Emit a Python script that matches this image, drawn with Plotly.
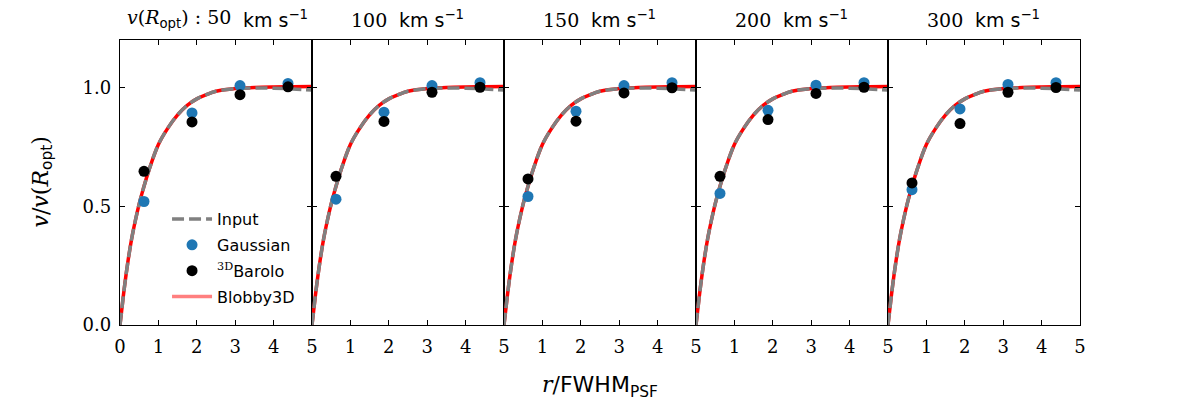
import plotly.graph_objects as go

# ---- data ----
title_prefix = ['<i>v</i>(<i>R</i><span style="font-family:\'DejaVu Sans\'"><sub>opt</sub></span>) : 50', '100', '150', '200', '300']
title_unit = 'km s<sup>−1</sup>'

r_curve = [0, 0.05, 0.1, 0.2, 0.3, 0.4, 0.5, 0.6, 0.75, 1.0, 1.25, 1.5, 1.75,
           2.0, 2.25, 2.5, 3.0, 3.5, 4.0, 4.5, 5.0]
input_curve = [0, 0.07, 0.14, 0.26, 0.36, 0.44, 0.51, 0.57, 0.65, 0.76, 0.83,
               0.885, 0.925, 0.952, 0.970, 0.984, 0.995, 0.998, 0.997, 0.994, 0.989]
blobby_curve = [0, 0.07, 0.14, 0.26, 0.36, 0.44, 0.51, 0.57, 0.65, 0.76, 0.83,
                0.885, 0.925, 0.952, 0.970, 0.984, 0.996, 1.0, 1.002, 1.003, 1.004]

r_points = [0.625, 1.875, 3.125, 4.375]
gaussian = [
    [0.520, 0.893, 1.008, 1.017],
    [0.530, 0.896, 1.008, 1.020],
    [0.541, 0.900, 1.008, 1.020],
    [0.554, 0.904, 1.010, 1.020],
    [0.570, 0.910, 1.013, 1.020],
]
barolo = [
    [0.647, 0.855, 0.970, 1.003],
    [0.626, 0.857, 0.980, 1.001],
    [0.615, 0.858, 0.977, 0.999],
    [0.626, 0.865, 0.975, 1.001],
    [0.598, 0.848, 0.980, 1.000],
]

x_ticks_first = [0, 1, 2, 3, 4, 5]
x_ticks_rest = [1, 2, 3, 4, 5]
y_ticks = [0.0, 0.5, 1.0]
y_tick_text = ["0.0", "0.5", "1.0"]

SERIF = "DejaVu Serif"
SANS = "DejaVu Sans"
RED = "#ff0000"
GRAY = "#808080"
BLUE = "#1f77b4"

fig = go.Figure()
n = 5
W, H = 1200, 405
L, R, T, B = 120, 120, 40, 80

for i in range(n):
    xa = "x" if i == 0 else f"x{i+1}"
    ya = "y" if i == 0 else f"y{i+1}"
    first = i == 0
    fig.add_trace(go.Scatter(x=r_curve, y=blobby_curve, mode="lines", xaxis=xa, yaxis=ya,
                             line=dict(color=RED, width=3.5, shape="spline"),
                             showlegend=False, hoverinfo="skip"))
    fig.add_trace(go.Scatter(x=r_curve, y=input_curve, mode="lines", xaxis=xa, yaxis=ya,
                             line=dict(color=GRAY, width=3.5, dash="12px,5px", shape="spline"),
                             name="Input", legendgroup="a", legendrank=1, showlegend=first))
    fig.add_trace(go.Scatter(x=r_points, y=gaussian[i], mode="markers", xaxis=xa, yaxis=ya,
                             marker=dict(color=BLUE, size=11),
                             name="Gaussian", legendgroup="b", legendrank=2, showlegend=first))
    fig.add_trace(go.Scatter(x=r_points, y=barolo[i], mode="markers", xaxis=xa, yaxis=ya,
                             marker=dict(color="black", size=11),
                             name=f'<span style="font-family:\'{SERIF}\'"><sup>3D</sup></span>Barolo',
                             legendgroup="c", legendrank=3, showlegend=first))

# legend entry for Blobby3D (pale, as in the reference legend)
fig.add_trace(go.Scatter(x=[None], y=[None], mode="lines", xaxis="x", yaxis="y",
                         line=dict(color="rgba(255,0,0,0.5)", width=3.5),
                         name="Blobby3D", legendgroup="d", legendrank=4))

axis_common = dict(showline=True, linecolor="black", linewidth=1.3, mirror="ticks",
                   ticks="inside", ticklen=5, tickwidth=1, tickcolor="black",
                   showgrid=False, zeroline=False,
                   tickfont=dict(family=SERIF, size=18, color="black"))

layout = {}
for i in range(n):
    xk = "xaxis" if i == 0 else f"xaxis{i+1}"
    yk = "yaxis" if i == 0 else f"yaxis{i+1}"
    ya = "y" if i == 0 else f"y{i+1}"
    xa = "x" if i == 0 else f"x{i+1}"
    d0 = i / n
    d1 = (i + 1) / n
    layout[xk] = dict(axis_common, domain=[d0, d1], range=[0, 5], anchor=ya,
                      tickvals=x_ticks_first if i == 0 else x_ticks_rest,
                      ticklabelstandoff=5)
    layout[yk] = dict(axis_common, domain=[0, 1], range=[0, 1.2], anchor=xa,
                      tickvals=y_ticks, ticktext=y_tick_text,
                      showticklabels=(i == 0), ticklabelstandoff=4)
fig.update_layout(**layout)

annotations = []
for i, t in enumerate(title_prefix):
    cx = (i + 0.5) / n
    # split point between serif number part and sans unit part
    split = 17 if i == 0 else -19
    annotations.append(dict(text=t, x=cx, y=1.0, xref="paper", yref="paper",
                            xanchor="right", yanchor="bottom", yshift=7, xshift=split,
                            showarrow=False,
                            font=dict(family=SERIF, size=19, color="black")))
    annotations.append(dict(text=title_unit, x=cx, y=1.0, xref="paper", yref="paper",
                            xanchor="left", yanchor="bottom", yshift=7, xshift=split + 8,
                            showarrow=False,
                            font=dict(family=SANS, size=19, color="black")))
annotations.append(dict(text=f'<i>r</i>/<span style="font-family:\'{SANS}\'">FWHM<sub>PSF</sub></span>',
                        x=0.5, y=0, xref="paper", yref="paper", xanchor="center",
                        yanchor="top", yshift=-45,
                        showarrow=False, font=dict(family=SERIF, size=22, color="black")))
annotations.append(dict(text=f'<i>v</i>/<i>v</i>(<i>R</i><span style="font-family:\'{SANS}\'"><sub>opt</sub></span>)',
                        x=0, y=0.5, xref="paper", yref="paper", xanchor="center",
                        yanchor="middle", xshift=-78,
                        textangle=-90, showarrow=False,
                        font=dict(family=SERIF, size=22, color="black")))

fig.update_layout(
    width=W, height=H,
    margin=dict(l=L, r=R, t=T, b=B),
    paper_bgcolor="white", plot_bgcolor="white",
    annotations=annotations,
    legend=dict(x=0.049, y=0.431, xanchor="left", yanchor="top",
                bgcolor="rgba(255,255,255,0)", borderwidth=0,
                font=dict(family=SANS, size=16, color="black"),
                itemwidth=40, tracegroupgap=2),
)

fig.write_html("out.html")
